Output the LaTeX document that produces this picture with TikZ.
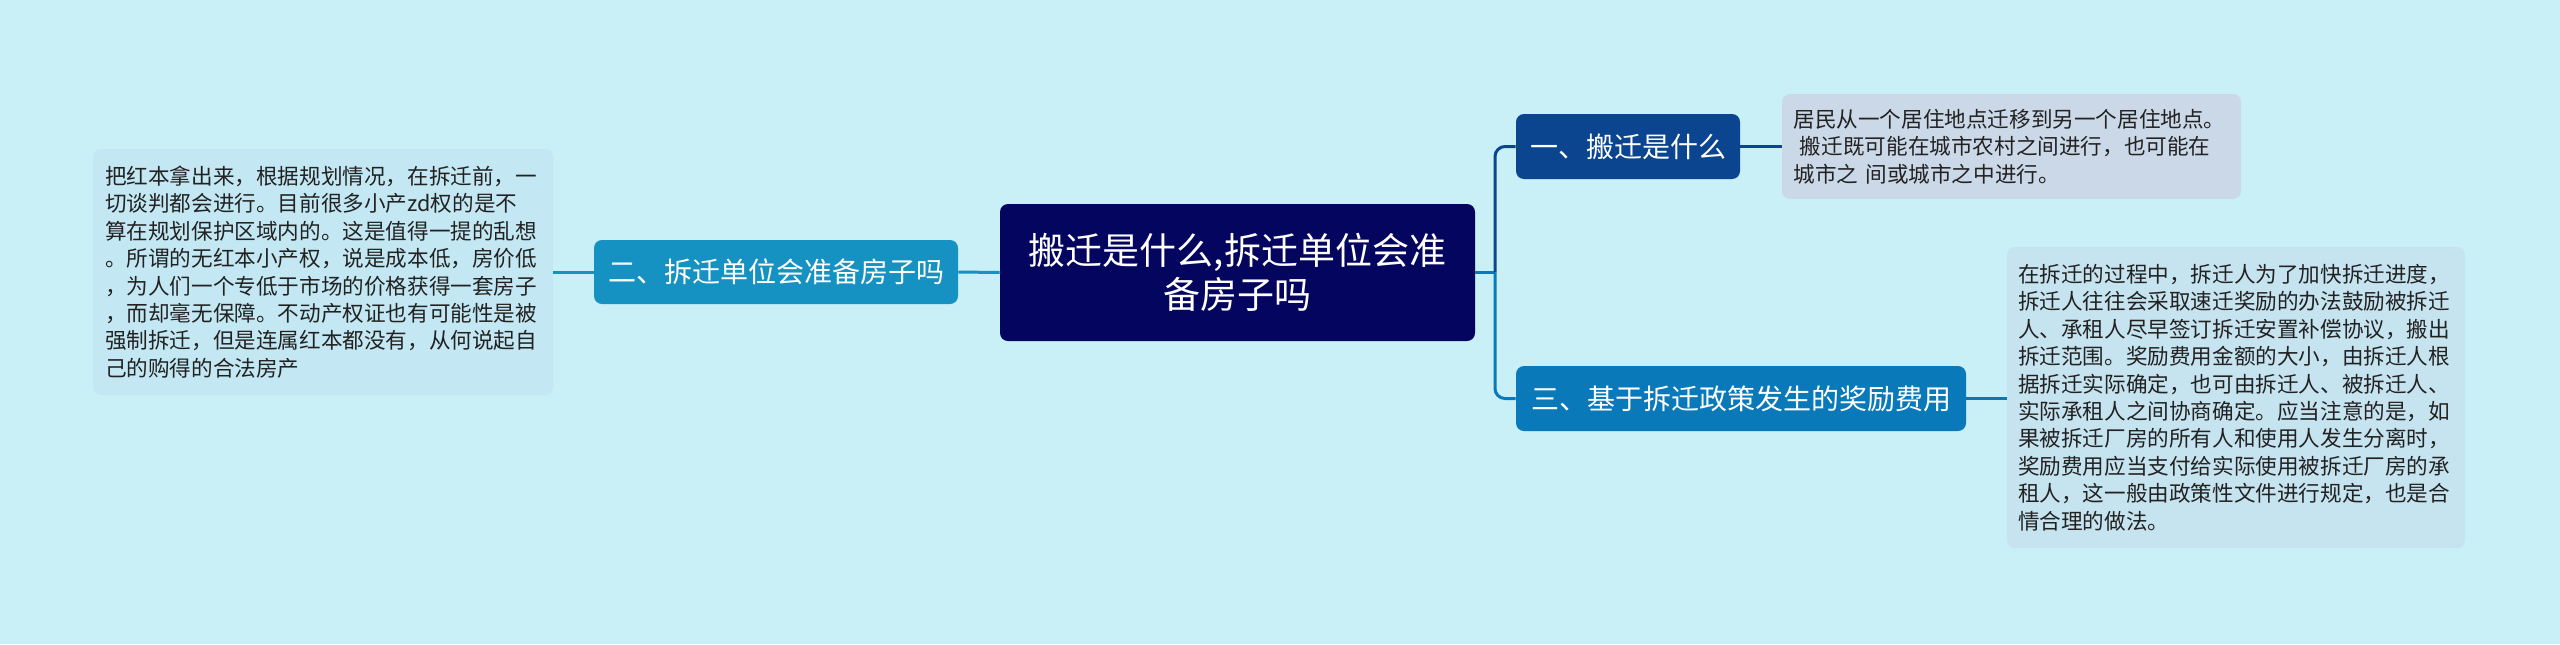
\documentclass[tikz,border=0pt]{standalone}
\usepackage{fontspec}
\setmainfont{Noto Sans CJK SC}
\usetikzlibrary{positioning}
\definecolor{bgc}{HTML}{C9EFF7}
\definecolor{rootc}{HTML}{03055E}
\definecolor{onec}{HTML}{0B4590}
\definecolor{twoc}{HTML}{1592C2}
\definecolor{threec}{HTML}{0A79B9}
\definecolor{leafa}{HTML}{CBD8E8}
\definecolor{leafb}{HTML}{C6E3F0}
\definecolor{leafc}{HTML}{C3E8F3}
\definecolor{txtc}{HTML}{222222}
\tikzset{
  rootbox/.style={fill=rootc, draw=none, rounded corners=4pt, text=white, align=center,
    font=\fontsize{18.5pt}{22pt}\selectfont, inner sep=0pt},
  topicbox/.style={draw=none, rounded corners=4pt, text=white, align=center,
    font=\fontsize{14pt}{17pt}\selectfont, inner sep=0pt},
  leafbox/.style={draw=none, rounded corners=4pt, text=txtc, align=left,
    font=\fontsize{10.8pt}{13.7pt}\selectfont, inner xsep=5.5pt, inner ysep=0pt, text width=218pt},
  link/.style={line width=1.5pt},
}
\begin{document}
\begin{tikzpicture}[x=0.5pt,y=-0.5pt]
\fill[bgc] (0,0) rectangle (2560,644);
\useasboundingbox (0,0) rectangle (2560,644);

\node[rootbox, minimum width=237.5pt, minimum height=68.5pt] (root) at (1237.5,272.5)
  {搬迁是什么,拆迁单位会准\\备房子吗};

\node[topicbox, fill=onec, minimum width=112pt, minimum height=32.5pt] (n1) at (1628,146.5)
  {一、搬迁是什么};
\node[topicbox, fill=twoc, minimum width=182pt, minimum height=32pt] (n2) at (776,272)
  {二、拆迁单位会准备房子吗};
\node[topicbox, fill=threec, minimum width=225pt, minimum height=32.5pt] (n3) at (1741,398.5)
  {三、基于拆迁政策发生的奖励费用};

\node[leafbox, fill=leafa, minimum width=229.5pt, minimum height=52.5pt] (l1) at (2011.5,146.5)
  {居民从一个居住地点迁移到另一个居住地点。\\
   \hspace*{0.3em}搬迁既可能在城市农村之间进行，也可能在\\
   城市之 间或城市之中进行。};

\node[leafbox, fill=leafb, minimum width=229pt, minimum height=150.5pt] (l3) at (2236,397.5)
  {在拆迁的过程中，拆迁人为了加快拆迁进度，\\
   拆迁人往往会采取速迁奖励的办法鼓励被拆迁\\
   人、承租人尽早签订拆迁安置补偿协议，搬出\\
   拆迁范围。奖励费用金额的大小，由拆迁人根\\
   据拆迁实际确定，也可由拆迁人、被拆迁人、\\
   实际承租人之间协商确定。应当注意的是，如\\
   果被拆迁厂房的所有人和使用人发生分离时，\\
   奖励费用应当支付给实际使用被拆迁厂房的承\\
   租人，这一般由政策性文件进行规定，也是合\\
   情合理的做法。};

\node[leafbox, fill=leafc, minimum width=230pt, minimum height=123pt] (l2) at (323,272)
  {把红本拿出来，根据规划情况，在拆迁前，一\\
   切谈判都会进行。目前很多小产zd权的是不\\
   算在规划保护区域内的。这是值得一提的乱想\\
   。所谓的无红本小产权，说是成本低，房价低\\
   ，为人们一个专低于市场的价格获得一套房子\\
   ，而却毫无保障。不动产权证也有可能性是被\\
   强制拆迁，但是连属红本都没有，从何说起自\\
   己的购得的合法房产};

\coordinate (j) at (1495,272.5);
\draw[link, draw=threec] (root.east) -- (j);
\draw[link, draw=onec, rounded corners=5pt] (j) |- (n1.west);
\draw[link, draw=threec, rounded corners=5pt] (j) |- (n3.west);
\draw[link, draw=onec] (n1.east) -- (l1.west |- n1.east);
\draw[link, draw=threec] (n3.east) -- (l3.west |- n3.east);
\draw[link, draw=twoc] (root.west) -- (n2.east);
\draw[link, draw=twoc] (n2.west) -- (l2.east);
\end{tikzpicture}
\end{document}
